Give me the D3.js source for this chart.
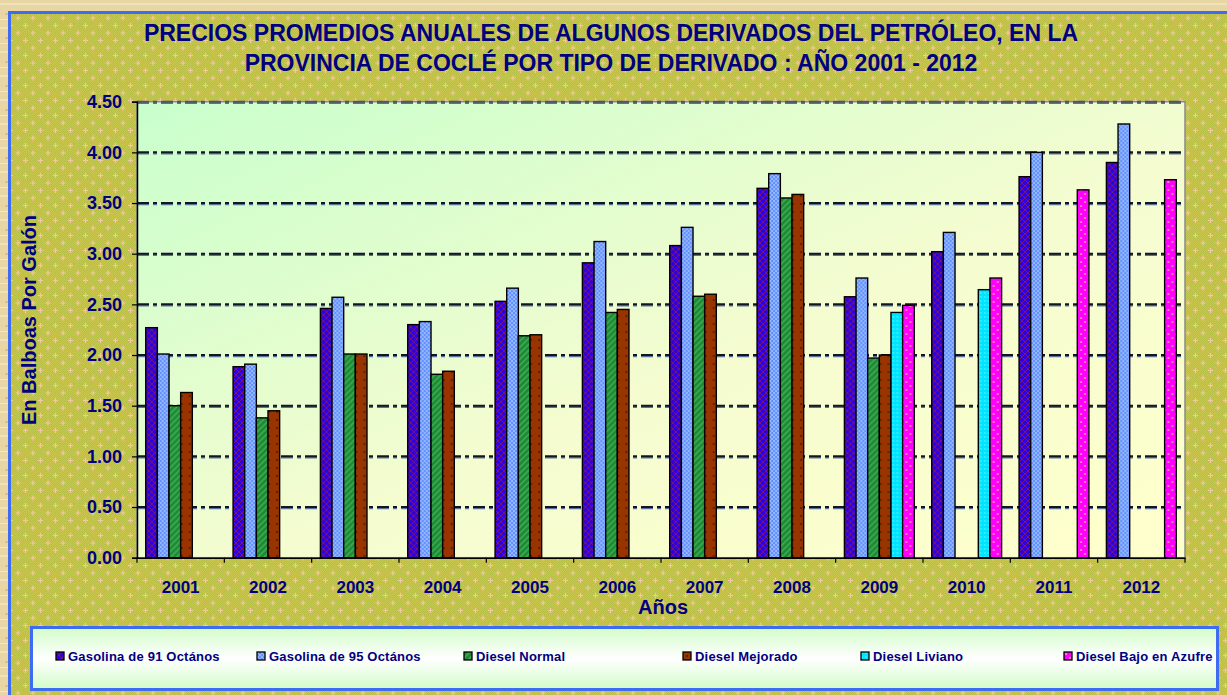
<!DOCTYPE html>
<html>
<head>
<meta charset="utf-8">
<script src="https://cdn.jsdelivr.net/npm/d3@7"></script>
<style>
    body { margin: 0; background: #e8d6a4; }
    svg { display: block; }
    text { font-family: "Liberation Sans", Arial, sans-serif; font-weight: bold; }
</style>
</head>
<body>
<div id="chart"></div>
<script>
"use strict";

const WIDTH = 1227
const HEIGHT = 695

// data
const years = ["2001", "2002", "2003", "2004", "2005", "2006", "2007", "2008", "2009", "2010", "2011", "2012"]
const series_names = ["Gasolina de 91 Octános", "Gasolina de 95 Octános", "Diesel Normal", "Diesel Mejorado", "Diesel Liviano", "Diesel Bajo en Azufre"]
const gasolina_91 = [2.27, 1.885, 2.46, 2.30, 2.53, 2.91, 3.08, 3.645, 2.575, 3.02, 3.76, 3.90]
const gasolina_95 = [2.01, 1.91, 2.57, 2.33, 2.66, 3.12, 3.26, 3.79, 2.76, 3.21, 4.00, 4.28]
const diesel_normal = [1.50, 1.38, 2.01, 1.81, 2.19, 2.42, 2.58, 3.55, 1.97, null, null, null]
const diesel_mejorado = [1.63, 1.45, 2.01, 1.84, 2.20, 2.45, 2.60, 3.585, 2.00, null, null, null]
const diesel_liviano = [null, null, null, null, null, null, null, null, 2.42, 2.645, null, null]
const diesel_bajo_azufre = [null, null, null, null, null, null, null, null, 2.49, 2.76, 3.63, 3.73]
const y_ticks = [0, 0.5, 1, 1.5, 2, 2.5, 3, 3.5, 4, 4.5]
const title_lines = ["PRECIOS PROMEDIOS ANUALES DE ALGUNOS DERIVADOS DEL PETRÓLEO, EN LA", "PROVINCIA DE COCLÉ POR TIPO DE DERIVADO : AÑO 2001 - 2012"]

const all_series = [gasolina_91, gasolina_95, diesel_normal, diesel_mejorado, diesel_liviano, diesel_bajo_azufre]

// layout
const plot = { left: 137, right: 1185, top: 101.7, bottom: 557.7 }
const legend_x = [56, 257, 464, 683, 861, 1064]
const NAVY = "#000080"
const BORDER_BLUE = "#3d6cf0"

const svg = d3.select("#chart").append("svg")
    .attr("width", WIDTH)
    .attr("height", HEIGHT)

const defs = svg.append("defs")

function pattern(id, size, bg) {
    const p = defs.append("pattern")
        .attr("id", id)
        .attr("patternUnits", "userSpaceOnUse")
        .attr("width", size)
        .attr("height", size)
    p.append("rect").attr("width", size).attr("height", size).attr("fill", bg)
    return p
}

// parchment behind the chart
const parch = pattern("parch", 24, "#e8d6a4")
parch.append("rect").attr("x", 0).attr("y", 3).attr("width", 24).attr("height", 2).attr("fill", "#f0e2b8")
parch.append("rect").attr("x", 5).attr("y", 13).attr("width", 14).attr("height", 2).attr("fill", "#d8c088")
parch.append("rect").attr("x", 0).attr("y", 19).attr("width", 10).attr("height", 1).attr("fill", "#f4e8c4")

// olive dither with peach crosses
const dither = pattern("dither", 2, "#c9c64e")
dither.append("rect").attr("width", 1).attr("height", 1).attr("fill", "#b9c048")
dither.append("rect").attr("x", 1).attr("y", 1).attr("width", 1).attr("height", 1).attr("fill", "#b9c048")
const crosses = pattern("crosses", 15, "url(#dither)")
;[[3, 3], [10.5, 10.5]].forEach(([cx, cy]) => {
    crosses.append("path")
        .attr("d", `M${cx - 2.5},${cy}h5M${cx},${cy - 2.5}v5`)
        .attr("stroke", "#f4c9a0")
        .attr("stroke-width", 1.2)
})

// bar fills
const p1 = pattern("p_g91", 6, "#2a00e6")
p1.append("path").attr("d", "M0,0L6,6M6,0L0,6").attr("stroke", "#7e1668").attr("stroke-width", 1)
const p2 = pattern("p_g95", 4, "#6392ff")
p2.append("rect").attr("width", 2).attr("height", 2).attr("fill", "#93b6ff")
p2.append("rect").attr("x", 2).attr("y", 2).attr("width", 2).attr("height", 2).attr("fill", "#93b6ff")
const p3 = pattern("p_dn", 6, "#1d8a38")
p3.append("path").attr("d", "M0,6L6,0M-1,1L1,-1M5,7L7,5").attr("stroke", "#41ad50").attr("stroke-width", 1.5)
const p4 = pattern("p_dm", 8, "#993300")
p4.append("circle").attr("cx", 4).attr("cy", 4).attr("r", 1).attr("fill", "#3c2400")
const p5 = pattern("p_dl", 4, "#00e4ff")
p5.append("rect").attr("width", 2).attr("height", 2).attr("fill", "#30ecff")
const p6 = pattern("p_db", 8, "#ff00ff")
p6.append("circle").attr("cx", 2).attr("cy", 2).attr("r", 1.1).attr("fill", "#ff9c9c")
p6.append("circle").attr("cx", 6).attr("cy", 6).attr("r", 1.1).attr("fill", "#ff9c9c")
const series_fills = ["url(#p_g91)", "url(#p_g95)", "url(#p_dn)", "url(#p_dm)", "url(#p_dl)", "url(#p_db)"]

// plot area gradient: green top-left to pale yellow bottom-right
const plot_grad = defs.append("linearGradient")
    .attr("id", "plot_grad")
    .attr("x1", 0).attr("y1", 0).attr("x2", 1).attr("y2", 1)
plot_grad.append("stop").attr("offset", "0%").attr("stop-color", "#c8ffcc")
plot_grad.append("stop").attr("offset", "55%").attr("stop-color", "#f4fcd0")
plot_grad.append("stop").attr("offset", "100%").attr("stop-color", "#ffffcc")

const legend_grad = defs.append("linearGradient")
    .attr("id", "legend_grad")
    .attr("x1", 0).attr("y1", 0).attr("x2", 0).attr("y2", 1)
legend_grad.append("stop").attr("offset", "0%").attr("stop-color", "#d2fcc8")
legend_grad.append("stop").attr("offset", "50%").attr("stop-color", "#ffffff")
legend_grad.append("stop").attr("offset", "100%").attr("stop-color", "#d2fcc8")

// backgrounds
svg.append("rect")
    .attr("width", WIDTH).attr("height", HEIGHT)
    .attr("fill", "url(#parch)")
svg.append("rect")
    .attr("x", 9.5).attr("y", 12.5)
    .attr("width", WIDTH + 20).attr("height", HEIGHT + 20)
    .attr("fill", "url(#crosses)")
    .attr("stroke", BORDER_BLUE)
    .attr("stroke-width", 3)

// scales
const x = d3.scaleBand()
    .domain(years)
    .range([plot.left, plot.right])
    .paddingInner(0.2)
    .paddingOuter(0.1)

const x_inner = d3.scaleBand()
    .domain(d3.range(all_series.length))
    .range([0, x.bandwidth()])

const y = d3.scaleLinear()
    .domain([0, 4.5])
    .range([plot.bottom, plot.top])

svg.append("rect")
    .attr("x", plot.left).attr("y", plot.top)
    .attr("width", plot.right - plot.left)
    .attr("height", plot.bottom - plot.top)
    .attr("fill", "url(#plot_grad)")
    .attr("stroke", "#8a8a8a")
    .attr("stroke-width", 1.5)

// dash-dot gridlines with a blue-grey shade below
const grid = svg.append("g")
grid.selectAll(".shade")
    .data(y_ticks.filter(t => t > 0))
    .join("line")
    .attr("x1", plot.left).attr("x2", plot.right)
    .attr("y1", d => y(d) + 1.2).attr("y2", d => y(d) + 1.2)
    .attr("stroke", "#58729c")
    .attr("stroke-width", 2)
    .attr("stroke-dasharray", "12,4,4,4")
grid.selectAll(".dash")
    .data(y_ticks.filter(t => t > 0))
    .join("line")
    .attr("x1", plot.left).attr("x2", plot.right)
    .attr("y1", d => y(d)).attr("y2", d => y(d))
    .attr("stroke", d => d === 4.5 ? "#50585e" : "#12161e")
    .attr("stroke-width", 2)
    .attr("stroke-dasharray", "12,4,4,4")

// bars
const groups = svg.append("g")
    .selectAll("g")
    .data(years)
    .join("g")
    .attr("transform", d => `translate(${x(d)},0)`)

groups.selectAll("rect")
    .data((year, i) => all_series.map((s, k) => ({ k: k, v: s[i] })).filter(d => d.v != null))
    .join("rect")
    .attr("x", d => x_inner(d.k))
    .attr("width", x_inner.bandwidth())
    .attr("y", d => y(d.v))
    .attr("height", d => y(0) - y(d.v))
    .attr("fill", d => series_fills[d.k])
    .attr("stroke", "#000")
    .attr("stroke-width", 1.4)

// y axis
const y_axis = svg.append("g")
    .attr("transform", `translate(${plot.left},0)`)
    .call(d3.axisLeft(y).tickValues(y_ticks).tickSize(5).tickPadding(10).tickFormat(d3.format(".2f")))
y_axis.select(".domain").attr("stroke", "#000").attr("stroke-width", 1.5)
y_axis.selectAll(".tick line").attr("stroke", "#000").attr("stroke-width", 1.2)
y_axis.selectAll("text")
    .attr("fill", NAVY)
    .style("font-size", "18px")
    .style("font-weight", "bold")
    .style("font-family", "Liberation Sans, Arial, sans-serif")

// x axis with ticks between the categories
const x_axis = svg.append("g")
    .attr("transform", `translate(0,${plot.bottom})`)
    .call(d3.axisBottom(x).tickSize(0).tickPadding(23))
x_axis.select(".domain").attr("stroke", "#000").attr("stroke-width", 1.5)
x_axis.selectAll("text")
    .attr("fill", NAVY)
    .style("font-size", "17px")
    .style("font-weight", "bold")
    .style("font-family", "Liberation Sans, Arial, sans-serif")
const gap = (x.step() - x.bandwidth()) / 2
const boundaries = years.map(d => x(d) - gap).concat([x(years[years.length - 1]) + x.bandwidth() + gap])
x_axis.selectAll(".sep")
    .data(boundaries)
    .join("line")
    .attr("x1", d => d).attr("x2", d => d)
    .attr("y1", 0).attr("y2", 5)
    .attr("stroke", "#000")
    .attr("stroke-width", 1.2)

// titles
svg.append("g").selectAll("text")
    .data(title_lines)
    .join("text")
    .attr("x", 611)
    .attr("y", (d, i) => 41 + i * 30)
    .attr("text-anchor", "middle")
    .attr("fill", NAVY)
    .style("font-size", "23px")
    .text(d => d)

svg.append("text")
    .attr("transform", "translate(36,320) rotate(-90)")
    .attr("text-anchor", "middle")
    .attr("fill", NAVY)
    .style("font-size", "20px")
    .text("En Balboas Por Galón")

svg.append("text")
    .attr("x", 663)
    .attr("y", 614)
    .attr("text-anchor", "middle")
    .attr("fill", NAVY)
    .style("font-size", "20px")
    .text("Años")

// legend
svg.append("rect")
    .attr("x", 31.5).attr("y", 627.5)
    .attr("width", 1186).attr("height", 62)
    .attr("fill", "url(#legend_grad)")
    .attr("stroke", BORDER_BLUE)
    .attr("stroke-width", 3)

const legend = svg.append("g")
    .selectAll("g")
    .data(series_names)
    .join("g")
    .attr("transform", (d, i) => `translate(${legend_x[i]},652)`)
legend.append("rect")
    .attr("width", 8).attr("height", 8)
    .attr("fill", (d, i) => series_fills[i])
    .attr("stroke", "#000")
    .attr("stroke-width", 1.3)
legend.append("text")
    .attr("x", 12)
    .attr("y", 9)
    .attr("fill", NAVY)
    .style("font-size", "13px")
    .style("letter-spacing", "0.2px")
    .text(d => d)
</script>
</body>
</html>
